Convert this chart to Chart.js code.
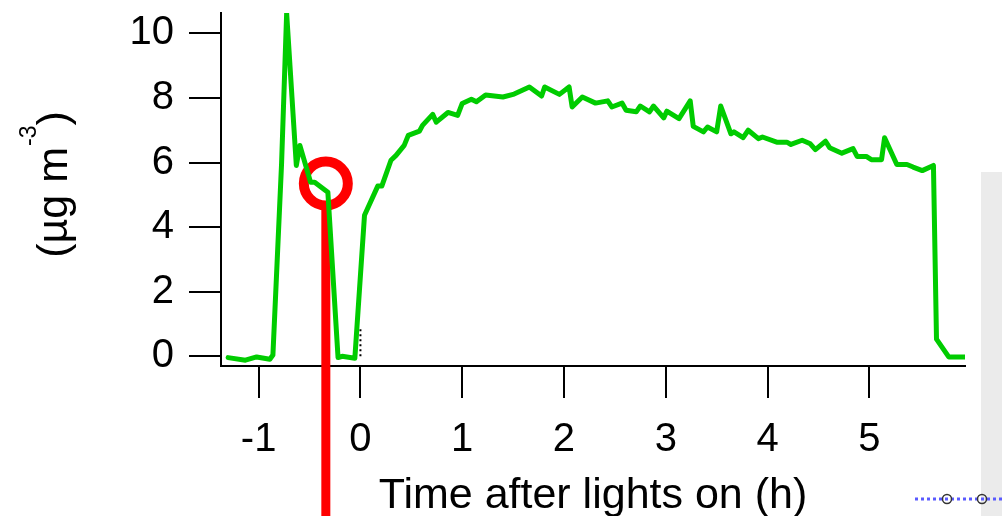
<!DOCTYPE html>
<html>
<head>
<meta charset="utf-8">
<script src="https://cdn.jsdelivr.net/npm/chart.js@4.4.1/dist/chart.umd.min.js"></script>
<style>
  body { margin: 0; background: #fff; }
  #wrap { position: relative; width: 1002px; height: 516px; }
</style>
</head>
<body>
<div id="wrap"><canvas id="pmChart" width="1002" height="516"></canvas></div>
<script>
// PM mass concentration vs time after lights on
const hours = [-1.30, -1.13, -1.02, -0.89, -0.86, -0.775, -0.725, -0.63, -0.595, -0.49, -0.45, -0.32,
  -0.22, -0.18, -0.055, 0.04, 0.17, 0.21, 0.30, 0.35, 0.43, 0.47, 0.58, 0.61, 0.71, 0.745, 0.86,
  0.955, 1.00, 1.09, 1.14, 1.23, 1.40, 1.51, 1.66, 1.78, 1.81, 1.955, 2.05, 2.08, 2.18, 2.31, 2.43,
  2.47, 2.57, 2.61, 2.71, 2.75, 2.84, 2.88, 2.98, 3.01, 3.13, 3.24, 3.27, 3.37, 3.41, 3.50, 3.54,
  3.64, 3.67, 3.76, 3.81, 3.91, 3.95, 4.09, 4.19, 4.23, 4.34, 4.42, 4.47, 4.57, 4.61, 4.73, 4.84,
  4.88, 4.97, 5.02, 5.12, 5.15, 5.27, 5.37, 5.43, 5.52, 5.63, 5.66, 5.78, 5.94];
const pm = [-0.04, -0.12, -0.02, -0.09, 0.04, 5.96, 10.62, 5.91, 6.53, 5.39, 5.39, 5.08,
  -0.04, 0.00, -0.06, 4.37, 5.27, 5.27, 6.07, 6.22, 6.53, 6.84, 6.97, 7.15, 7.49, 7.25, 7.55,
  7.46, 7.83, 7.96, 7.88, 8.09, 8.03, 8.12, 8.34, 8.06, 8.34, 8.11, 8.34, 7.72, 8.03, 7.84, 7.91,
  7.72, 7.84, 7.62, 7.57, 7.75, 7.57, 7.75, 7.38, 7.59, 7.36, 7.91, 7.12, 6.95, 7.10, 6.95, 7.75,
  6.89, 6.95, 6.77, 7.00, 6.74, 6.79, 6.63, 6.63, 6.56, 6.69, 6.58, 6.40, 6.66, 6.46, 6.29, 6.43,
  6.19, 6.19, 6.09, 6.09, 6.77, 5.94, 5.94, 5.86, 5.75, 5.91, 0.53, -0.02, -0.02];

// short dotted marker at lights on
const lightsOnX = [0, 0];
const lightsOnY = [0, 0.88];

const xTicks = [-1, 0, 1, 2, 3, 4, 5];
const yTicks = [0, 2, 4, 6, 8, 10];

// highlighted sample (red ring + drop line)
const markTime = -0.34;
const markLevel = 5.35;

const FONT = '"Liberation Sans", Arial, sans-serif';

const redMarker = {
  id: 'redMarker',
  beforeDatasetsDraw(chart) {
    const { ctx, scales: { x, y } } = chart;
    const px = x.getPixelForValue(markTime);
    const py = y.getPixelForValue(markLevel);
    ctx.save();
    ctx.strokeStyle = '#ff0000';
    ctx.fillStyle = '#ff0000';
    ctx.fillRect(px - 4.5, py + 22, 9, chart.height - py);
    ctx.lineWidth = 10;
    ctx.beginPath();
    ctx.arc(px, py, 22, 0, Math.PI * 2);
    ctx.stroke();
    ctx.restore();
  }
};

const extras = {
  id: 'extras',
  afterDraw(chart) {
    const { ctx } = chart;
    ctx.save();
    // y axis title with superscript
    const big = '43px ' + FONT, small = '23px ' + FONT;
    ctx.font = big;
    const w1 = ctx.measureText('(µg m').width;
    const w3 = ctx.measureText(')').width;
    ctx.font = small;
    const w2 = ctx.measureText('-3').width;
    const total = w1 + w2 + w3;
    ctx.translate(67, 185 + total / 2);
    ctx.rotate(-Math.PI / 2);
    ctx.fillStyle = '#000';
    ctx.textBaseline = 'alphabetic';
    ctx.textAlign = 'left';
    ctx.font = big;
    ctx.fillText('(µg m', 0, 0);
    ctx.font = small;
    ctx.fillText('-3', w1 + 1, -31);
    ctx.font = big;
    ctx.fillText(')', w1 + w2 + 1, 0);
    ctx.restore();

    // edge of the neighbouring panel
    ctx.save();
    ctx.fillStyle = '#ebebeb';
    ctx.fillRect(981, 172, 21, 344);
    ctx.strokeStyle = '#5a5aff';
    ctx.lineWidth = 3;
    ctx.setLineDash([3, 3]);
    ctx.beginPath();
    ctx.moveTo(915, 499);
    ctx.lineTo(1002, 499);
    ctx.stroke();
    ctx.setLineDash([]);
    ctx.strokeStyle = '#333';
    ctx.lineWidth = 1.5;
    [947, 982].forEach(cx => {
      ctx.beginPath();
      ctx.arc(cx, 499, 4.5, 0, Math.PI * 2);
      ctx.stroke();
    });
    ctx.restore();
  }
};

new Chart(document.getElementById('pmChart'), {
  type: 'line',
  data: {
    datasets: [{
      data: hours.map((h, i) => ({ x: h, y: pm[i] })),
      borderColor: '#00cc00',
      borderWidth: 5,
      borderJoinStyle: 'round',
      borderCapStyle: 'round',
      pointRadius: 0,
      tension: 0
    }, {
      data: lightsOnX.map((h, i) => ({ x: h, y: lightsOnY[i] })),
      borderColor: '#000',
      borderWidth: 2,
      borderDash: [2, 3],
      pointRadius: 0
    }]
  },
  options: {
    responsive: false,
    animation: false,
    layout: { padding: { top: 13, right: 37, left: 0, bottom: 0 } },
    plugins: { legend: { display: false }, tooltip: { enabled: false } },
    scales: {
      x: {
        type: 'linear',
        min: -1.37,
        max: 5.94,
        afterBuildTicks: s => { s.ticks = xTicks.map(v => ({ value: v })); },
        afterFit: s => { s.height = 150; s.paddingLeft = 0; s.paddingRight = 0; },
        grid: { drawOnChartArea: false, tickLength: 32, color: '#000', lineWidth: 2 },
        border: { color: '#000', width: 2 },
        ticks: { color: '#000', font: { family: FONT, size: 40 }, padding: 18, maxRotation: 0 },
        title: {
          display: true,
          text: 'Time after lights on (h)',
          color: '#000',
          font: { family: FONT, size: 43 },
          padding: { top: 0, bottom: -6 }
        }
      },
      y: {
        min: -0.3,
        max: 10.63,
        afterBuildTicks: s => { s.ticks = yTicks.map(v => ({ value: v })); },
        afterFit: s => { s.width = 221; s.paddingTop = 0; s.paddingBottom = 0; },
        grid: { drawOnChartArea: false, tickLength: 32, color: '#000', lineWidth: 2 },
        border: { color: '#000', width: 2 },
        ticks: { color: '#000', font: { family: FONT, size: 40 }, padding: 15 }
      }
    }
  },
  plugins: [redMarker, extras]
});
</script>
</body>
</html>
